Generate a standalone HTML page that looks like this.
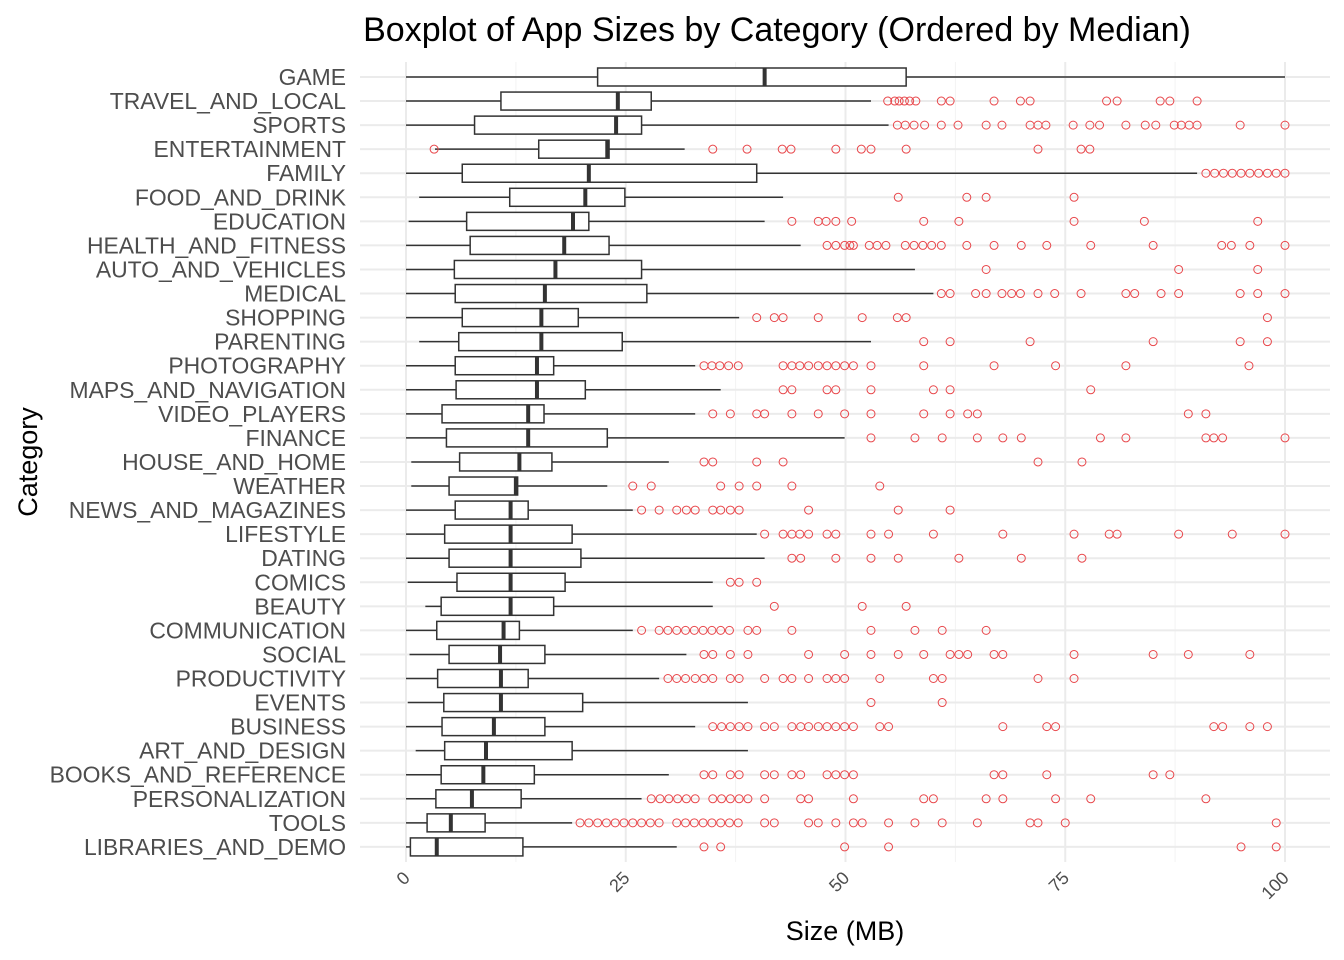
<!DOCTYPE html>
<html><head><meta charset="utf-8"><style>
body{margin:0;background:#fff;}
svg{display:block;font-family:"Liberation Sans",Arial,sans-serif;}
</style></head><body>
<svg id="chart" width="1344" height="960">
<text x="777" y="41" text-anchor="middle" font-size="34" fill="#000">Boxplot of App Sizes by Category (Ordered by Median)</text>
<text x="845" y="940" text-anchor="middle" font-size="27" fill="#000">Size (MB)</text>
<text transform="translate(37,462) rotate(-90)" text-anchor="middle" font-size="27" fill="#000">Category</text>
<g id="grid"></g><g id="marks"></g><g id="labels"></g>
</svg>
<script>
const categories=["GAME","TRAVEL_AND_LOCAL","SPORTS","ENTERTAINMENT","FAMILY","FOOD_AND_DRINK","EDUCATION","HEALTH_AND_FITNESS","AUTO_AND_VEHICLES","MEDICAL","SHOPPING","PARENTING","PHOTOGRAPHY","MAPS_AND_NAVIGATION","VIDEO_PLAYERS","FINANCE","HOUSE_AND_HOME","WEATHER","NEWS_AND_MAGAZINES","LIFESTYLE","DATING","COMICS","BEAUTY","COMMUNICATION","SOCIAL","PRODUCTIVITY","EVENTS","BUSINESS","ART_AND_DESIGN","BOOKS_AND_REFERENCE","PERSONALIZATION","TOOLS","LIBRARIES_AND_DEMO"];
const whiskerLow=[0,0,0,3.3,0,1.5,0.3,0,0,0,0,1.5,0,0,0,0,0.6,0.6,0,0,0,0.2,2.2,0,0.4,0,0.2,0,1.1,0,0,0,0];
const q1=[21.8,10.8,7.8,15.1,6.4,11.8,6.9,7.3,5.5,5.6,6.4,6.0,5.6,5.7,4.1,4.6,6.1,4.9,5.6,4.4,4.9,5.8,4.0,3.5,4.9,3.6,4.3,4.1,4.4,4.0,3.4,2.4,0.5];
const medians=[40.8,24.1,23.9,22.9,20.8,20.4,19.0,18.0,17.0,15.8,15.4,15.4,14.9,14.9,13.9,13.9,12.9,12.5,11.9,11.9,11.9,11.9,11.9,11.1,10.7,10.8,10.8,10.0,9.1,8.8,7.5,5.1,3.5];
const q3=[56.9,27.9,26.8,23.1,39.9,24.9,20.8,23.1,26.8,27.4,19.6,24.6,16.8,20.4,15.7,22.9,16.6,12.7,13.9,18.9,19.9,18.1,16.8,12.9,15.8,13.9,20.1,15.8,18.9,14.6,13.1,9.0,13.3];
const whiskerHigh=[100,52.9,54.9,31.7,90,42.9,40.8,44.9,57.9,60,37.9,52.9,32.9,35.8,32.9,49.9,29.9,22.9,25.8,39.9,40.8,34.9,34.9,25.8,31.9,28.8,38.9,32.9,38.9,29.9,26.8,18.9,30.8];
const outliers=[
[],
[54.8,55.6,56.1,56.7,57.3,58.0,60.9,61.9,66.9,69.9,71.0,79.7,80.9,85.8,86.9,90.0],
[55.9,56.8,57.8,59.0,60.9,62.8,66.0,67.8,71.0,71.9,72.8,75.9,77.8,78.9,81.9,84.1,85.3,87.4,88.2,89.1,90.0,94.9,100],
[3.2,34.9,38.8,42.8,43.8,48.9,51.8,52.9,56.9,71.9,76.8,77.8],
[91,92,93,94,95,96,97,98,99,100],
[56,63.8,66,76],
[43.9,46.9,47.8,48.9,50.7,58.9,62.9,76,84,96.9],
[47.9,48.9,49.9,50.5,50.9,52.7,53.6,54.6,56.8,57.8,58.8,59.8,60.9,63.8,66.9,70.0,72.9,77.9,85.0,92.8,93.9,96.0,100],
[66,87.9,96.9],
[60.9,61.9,64.8,66,67.8,68.9,69.9,71.9,73.8,76.8,81.9,82.9,85.9,87.9,94.9,96.9,100],
[39.9,41.9,42.9,46.9,51.9,55.9,56.9,98],
[58.9,61.9,71,85,94.9,98],
[33.9,34.8,35.7,36.7,37.8,42.9,43.9,44.8,45.8,46.9,47.9,48.9,49.9,50.9,52.9,58.9,66.9,73.9,81.9,95.9],
[42.9,43.9,47.9,48.9,52.9,60,61.9,77.9],
[34.9,36.9,39.9,40.8,43.9,46.9,49.9,52.9,58.9,61.9,63.9,65,89,91],
[52.9,57.9,61,65,67.9,70,79,81.9,91,91.9,92.9,100],
[33.9,34.9,39.9,42.9,71.9,76.9],
[25.8,27.9,35.8,37.9,39.9,43.9,53.9],
[26.8,28.8,30.8,31.9,32.9,34.9,35.8,36.9,37.9,45.8,56,61.9],
[40.8,42.9,43.9,44.8,45.8,47.9,48.9,52.9,54.9,60,67.9,76,80,80.9,87.9,94,100],
[43.9,44.9,48.9,52.9,56,62.9,70,76.9],
[36.9,37.9,39.9],
[41.9,51.9,56.9],
[26.8,28.8,29.8,30.8,31.8,32.8,33.8,34.8,35.8,36.8,38.9,39.9,43.9,52.9,57.9,61,66],
[33.9,34.9,36.9,38.9,45.8,49.9,52.9,56,58.9,61.9,62.9,63.9,66.9,67.9,76,85,89,96],
[29.8,30.8,31.8,32.9,33.9,34.9,36.9,37.9,40.8,42.9,43.9,45.8,47.9,48.9,49.9,53.9,60,61,71.9,76],
[52.9,61],
[34.9,35.9,36.9,37.9,38.9,40.8,41.9,43.9,44.9,45.8,46.9,47.9,48.9,49.9,50.9,53.9,54.9,67.9,72.9,73.9,91.9,92.9,96,98],
[],
[33.9,34.9,36.9,37.9,40.8,41.9,43.9,44.9,47.9,48.9,49.9,50.9,66.9,67.9,72.9,85,86.9],
[27.9,28.9,29.9,30.9,31.9,32.9,34.9,35.9,36.9,37.9,38.9,40.8,44.9,45.8,50.9,58.9,60,66,67.9,73.9,77.9,91],
[19.8,20.8,21.8,22.8,23.8,24.8,25.8,26.8,27.8,28.8,30.8,31.8,32.8,33.8,34.8,35.8,36.8,37.8,40.8,41.9,45.8,46.9,48.9,50.9,51.9,54.9,57.9,61,65,71,71.9,75,99],
[33.9,35.8,49.9,54.9,95,99]
];
const xTicks=[0,25,50,75,100];
const xMinor=[12.5,37.5,62.5,87.5];

const NS="http://www.w3.org/2000/svg";
const X=v=>406+v*8.79;
const Y=i=>77+i*24.06;
const L=360,R=1330,T=62,B=862;
function mk(tag,attrs,parent){const e=document.createElementNS(NS,tag);for(const k in attrs)e.setAttribute(k,attrs[k]);parent.appendChild(e);return e;}
const grid=document.getElementById('grid'),marks=document.getElementById('marks'),labels=document.getElementById('labels');
xMinor.forEach(v=>{const l=mk('line',{x1:X(v),x2:X(v),y1:T,y2:B,stroke:'#f3f3f3','stroke-width':1},grid);

});
xTicks.forEach(v=>{const l=mk('line',{x1:X(v),x2:X(v),y1:T,y2:B,stroke:'#ebebeb','stroke-width':2},grid);


const t=mk('text',{transform:`translate(${X(v)+5},${879}) rotate(-45)`,'text-anchor':'end','font-size':18,fill:'#4d4d4d'},labels);
t.textContent=v;

});
categories.forEach((c,i)=>{
const y=Y(i);
const gl=mk('line',{x1:L,x2:R,y1:y,y2:y,stroke:'#ebebeb','stroke-width':2},grid);


const t=mk('text',{x:346,y:y+8,'text-anchor':'end','font-size':22.9,fill:'#4d4d4d'},labels);
t.textContent=c;


const g=mk('g',{},marks);


mk('line',{x1:X(whiskerLow[i]),x2:X(q1[i]),y1:y,y2:y,stroke:'#333','stroke-width':1.5},g);
mk('line',{x1:X(q3[i]),x2:X(whiskerHigh[i]),y1:y,y2:y,stroke:'#333','stroke-width':1.5},g);
mk('rect',{x:X(q1[i]),y:y-9,width:Math.max(X(q3[i])-X(q1[i]),1),height:18,fill:'#fff',stroke:'#333','stroke-width':1.5},g);
mk('line',{x1:X(medians[i]),x2:X(medians[i]),y1:y-9,y2:y+9,stroke:'#333','stroke-width':4},g);
outliers[i].forEach(v=>{const o=mk('circle',{cx:X(v),cy:y,r:4,fill:'none',stroke:'#e8474b','stroke-width':1},g);

});
});
</script>
</body></html>
